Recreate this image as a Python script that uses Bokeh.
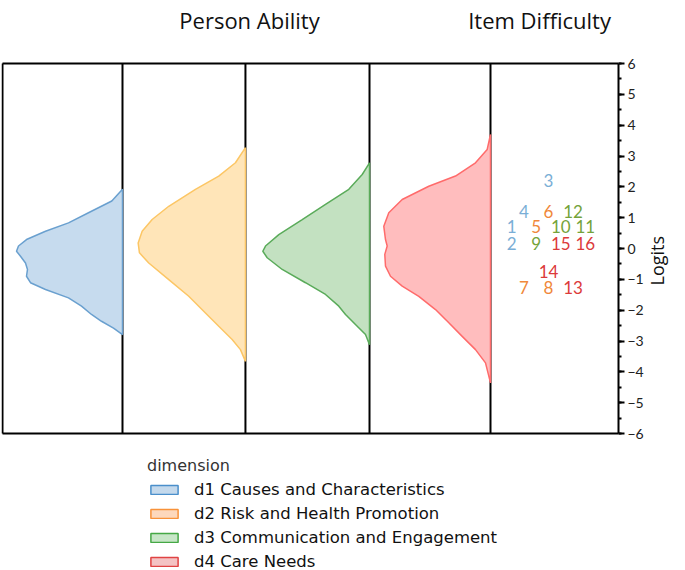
import math
from bokeh.plotting import figure
from bokeh.models import (Range1d, SingleIntervalTicker, Label, Legend,
                          LegendItem, ColumnDataSource)
from bokeh.core.properties import value
from bokeh.embed import file_html
from bokeh.resources import INLINE

# ---------------- data ----------------
dimensions = ["d1 Causes and Characteristics", "d2 Risk and Health Promotion",
              "d3 Communication and Engagement", "d4 Care Needs"]

# person ability density profiles (logit, relative density)
d1_logit = [1.92, 1.54, 1.16, 0.83, 0.56, 0.29, 0.08, -0.09, -0.25, -0.47, -0.68,
            -0.90, -1.11, -1.33, -1.60, -1.87, -2.14, -2.36, -2.58, -2.79]
d1_density = [0, 10.7, 34, 54, 77, 96, 104, 106, 102, 97, 95,
              96, 92, 77, 54, 41, 31, 21, 9, 0]

d2_logit = [3.27, 2.78, 2.35, 1.92, 1.37, 0.94, 0.56, 0.18, -0.14, -0.47, -1.01,
            -1.55, -2.09, -2.52, -2.95, -3.28, -3.66]
d2_density = [0, 10, 26.7, 50, 76.7, 93.3, 103.3, 107.3, 106, 96.7, 76.7,
              56.7, 40, 26.7, 13.3, 5, 0]

d3_logit = [2.78, 2.40, 1.92, 1.43, 0.94, 0.45, 0.08, -0.09, -0.30, -0.68, -1.11,
            -1.49, -1.87, -2.14, -2.52, -2.79, -3.12]
d3_density = [0, 7.3, 20.7, 44, 67.3, 90.7, 104, 106.7, 102.3, 87.3, 64,
              44, 30.7, 24, 12.3, 4, 0]

d4_logit = [3.70, 3.21, 2.78, 2.35, 2.02, 1.59, 1.16, 0.72, 0.29, 0.08, -0.19,
            -0.57, -0.90, -1.22, -1.55, -1.98, -2.41, -2.85, -3.28, -3.71, -4.36]
d4_density = [0, 3.3, 15, 35, 61.7, 88.3, 101.7, 106.7, 105, 103.3, 105.7,
              105, 100, 88.3, 71.7, 55, 41.7, 28.3, 15, 5, 0]

# item difficulty
item_ids = list(range(1, 17))
item_difficulty = [0.7, 0.15, 2.2, 1.2, 0.7, 1.2, -1.25, -1.25,
                   0.15, 0.7, 0.7, 1.2, -1.25, -0.75, 0.15, 0.15]
item_dimension = [1, 1, 1, 1, 2, 2, 2, 2, 3, 3, 3, 3, 4, 4, 4, 4]

y_ticks_min, y_ticks_max = -6, 6

# ---------------- styles / layout ----------------
dens_fill = ["#c6dbee", "#ffe5b8", "#c3e1c1", "#ffbdbe"]
dens_line = ["#6aa0cf", "#fcc665", "#5aab5a", "#ff6b6b"]
leg_fill = ["#c4d9ec", "#fdd8bc", "#c7e6c7", "#f4c3c4"]
leg_line = ["#4a8fcb", "#f8923a", "#45a845", "#e04343"]
item_col = ["#7aaed6", "#f0883a", "#74a33a", "#dc3a3a"]
PANEL_EDGES = [0, 0.974, 1.972, 2.979, 3.961, 5]
DENS_SCALE = 1 / 123.2      # density units -> x units
ITEM_CENTER = 4.432
ITEM_STEP = 0.199

W, H = 685, 570
BOX_TOP_PX, BOX_BOTTOM_PX = 63, 433
ppu = (BOX_BOTTOM_PX - BOX_TOP_PX) / (y_ticks_max - y_ticks_min)
y_lo = y_ticks_min - (H - BOX_BOTTOM_PX) / ppu
y_hi = y_ticks_max + BOX_TOP_PX / ppu

p = figure(width=W, height=H, output_backend="svg", toolbar_location=None,
           x_range=Range1d(-0.0081, 5), y_range=Range1d(y_lo, y_hi),
           x_axis_location=None, y_axis_location="right",
           min_border_left=1, min_border_right=W - 618, min_border_top=0,
           min_border_bottom=0)
p.grid.visible = False
p.outline_line_alpha = 0
p.background_fill_color = "white"
p.border_fill_color = "white"

ax = p.yaxis[0]
ax.bounds = (y_ticks_min, y_ticks_max)
ax.ticker = SingleIntervalTicker(interval=1, num_minor_ticks=2)
ax.axis_line_color = "black"
ax.axis_line_width = 2
ax.major_tick_line_color = "black"
ax.major_tick_line_width = 2
ax.major_tick_out = 6
ax.major_tick_in = 0
ax.minor_tick_line_color = "black"
ax.minor_tick_line_width = 2
ax.minor_tick_out = 3
ax.minor_tick_in = 0
ax.major_label_standoff = 3
ax.major_label_text_font = "Lato"
ax.major_label_text_font_size = "14px"
ax.major_label_text_color = "#222222"
ax.axis_label = "Logits"
ax.axis_label_text_font = "Open Sans"
ax.axis_label_text_font_size = "18px"
ax.axis_label_text_font_style = "normal"
ax.axis_label_text_color = "#111111"
ax.axis_label_standoff = 10
ax.axis_label_orientation = math.pi / 2

# panel box and dividers
box_xs = [[0, 5], [0, 5]] + [[e, e] for e in PANEL_EDGES[:-1]]
box_ys = [[y_ticks_max] * 2, [y_ticks_min] * 2] + \
         [[y_ticks_min, y_ticks_max]] * (len(PANEL_EDGES) - 1)
p.multi_line(box_xs, box_ys, line_color="black", line_width=2)

# densities
profiles = [(d1_logit, d1_density), (d2_logit, d2_density),
            (d3_logit, d3_density), (d4_logit, d4_density)]
for i, (ly, dv) in enumerate(profiles):
    right = PANEL_EDGES[i + 1]
    xs = [right - d * DENS_SCALE for d in dv]
    p.patch(xs, ly, fill_color=dens_fill[i], fill_alpha=1,
            line_color=dens_line[i], line_width=1.5)

# item labels: grouped by difficulty level, ordered by item number
rows = {}
for iid, dif in zip(item_ids, item_difficulty):
    rows.setdefault(dif, []).append(iid)
ix, iy, it, ic = [], [], [], []
for dif, ids in rows.items():
    n = len(ids)
    for k, iid in enumerate(ids):
        ix.append(ITEM_CENTER + (k - (n - 1) / 2) * ITEM_STEP)
        iy.append(dif)
        it.append(str(iid))
        ic.append(item_col[item_dimension[iid - 1] - 1])
src = ColumnDataSource(dict(x=ix, y=iy, text=it, color=ic))
p.text(x="x", y="y", text="text", text_color="color", source=src,
       text_font=value("Lato"), text_font_size="17px",
       text_align="center", text_baseline="middle")

# titles
title_y = y_ticks_max + (BOX_TOP_PX - 19.5) / ppu
p.add_layout(Label(x=2.005, y=title_y, text="Person Ability", text_font="Open Sans",
                   text_font_size="22px", text_color="#111111",
                   text_align="center", text_baseline="alphabetic"))
p.add_layout(Label(x=3.78, y=title_y, text="Item Difficulty", text_font="Open Sans",
                   text_font_size="22px", text_color="#111111",
                   text_align="left", text_baseline="alphabetic"))

# legend (swatches only; no data points)
nan = float("nan")
items = []
for i, name in enumerate(dimensions):
    r = p.quad(left=[nan], right=[nan], top=[nan], bottom=[nan],
               fill_color=leg_fill[i], line_color=leg_line[i], line_width=1.5)
    items.append(LegendItem(label=name, renderers=[r]))
legend = Legend(items=items, location=(146, -2), title="dimension",
                title_text_font="DejaVu Sans", title_text_font_size="16px",
                title_text_color="#333333", title_text_font_style="normal",
                title_standoff=3,
                label_text_font="DejaVu Sans", label_text_font_size="16.5px",
                label_text_color="#111111", label_height=22, label_standoff=13,
                glyph_width=34, glyph_height=11, spacing=2, padding=0, margin=0,
                border_line_alpha=0, background_fill_alpha=0)
p.add_layout(legend)

open("out.html", "w").write(file_html(p, INLINE))
